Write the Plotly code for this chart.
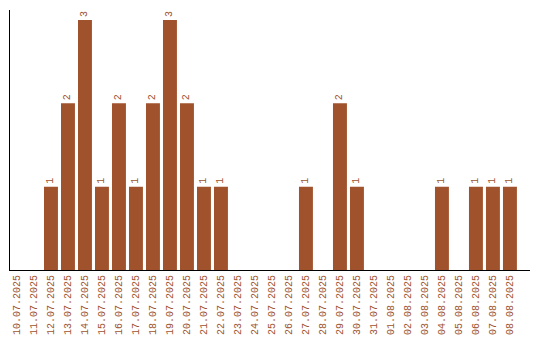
import plotly.graph_objects as go

dates = ["10.07.2025", "11.07.2025", "12.07.2025", "13.07.2025", "14.07.2025",
         "15.07.2025", "16.07.2025", "17.07.2025", "18.07.2025", "19.07.2025",
         "20.07.2025", "21.07.2025", "22.07.2025", "23.07.2025", "24.07.2025",
         "25.07.2025", "26.07.2025", "27.07.2025", "28.07.2025", "29.07.2025",
         "30.07.2025", "31.07.2025", "01.08.2025", "02.08.2025", "03.08.2025",
         "04.08.2025", "05.08.2025", "06.08.2025", "07.08.2025", "08.08.2025"]
counts = [0, 0, 1, 2, 3, 1, 2, 1, 2, 3, 2, 1, 1, 0, 0, 0, 0, 1, 0, 2,
          1, 0, 0, 0, 0, 1, 0, 1, 1, 1]

color = "#A0522D"
font = "Liberation Mono, Courier New, monospace"

labels = [str(c) if c > 0 else "" for c in counts]

fig = go.Figure(go.Bar(
    x=dates, y=counts, marker_color=color, marker_line_width=0,
    text=labels, textposition="outside", textangle=-90,
    textfont=dict(family=font, size=10, color=color),
    cliponaxis=False,
))

fig.update_layout(
    width=540, height=340,
    margin=dict(l=10, r=10, t=10, b=70),
    plot_bgcolor="white", paper_bgcolor="white",
    bargap=0.18, showlegend=False,
    xaxis=dict(type="category", range=[-0.41, 30.18], showgrid=False,
               showline=True, linecolor="black", linewidth=1.2, automargin=False,
               tickangle=-90, ticks="", tickfont=dict(family=font, size=10, color=color)),
    yaxis=dict(range=[0, 3.12], showgrid=False, showticklabels=False, ticks="",
               showline=True, linecolor="black", linewidth=1, zeroline=False,
               automargin=False),
)

fig.write_html("out.html")
